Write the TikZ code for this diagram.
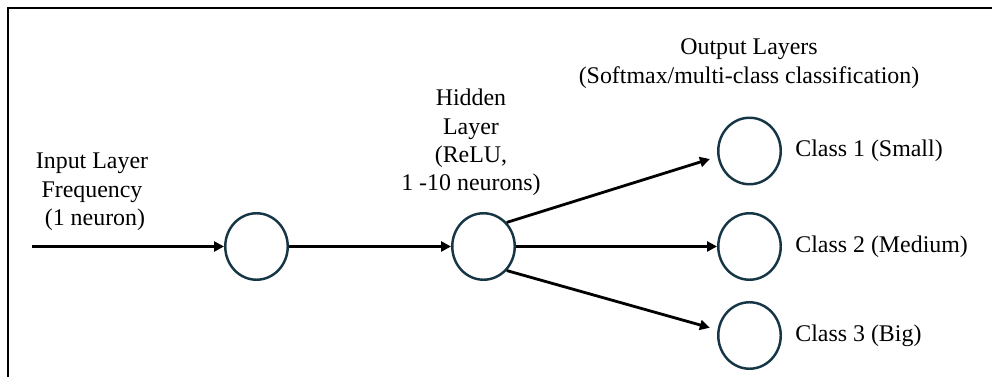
\documentclass[tikz,border=0pt]{standalone}
\usepackage{fontspec}
\setmainfont{Liberation Serif}
\usetikzlibrary{arrows.meta,positioning,shapes}
\definecolor{ring}{RGB}{22,54,70}

\begin{document}
\begin{tikzpicture}[inner sep=0pt]
  \useasboundingbox(0,0)rectangle(19.84,7.54);
  \draw[line width=1.5pt](0.16,0)|-(19.84,7.38);
  \tikzstyle{v}=[ellipse,line width=1.4pt,draw=ring,minimum width=12.5mm,minimum height=13.3mm]\fontsize{13.6pt}{16.2pt}\selectfont
  \node[v](in1)at(5.13,2.61){};
  \node[v](h1)at(9.67,2.61){};
  \node[v](o1)at(14.99,4.52){};
  \node[v](o2)at(14.99,2.61){};
  \node[v](o3)at(14.99,0.83){};
  \coordinate(src)at(0.64,2.61);
  \node[align=center](tin)at(1.84,3.70){Input Layer\\Frequency\\ \ (1 neuron)};
  \node[align=center](th1)at(9.42,4.69){Hidden\\Layer\\(ReLU,\\1 -10 neurons)};
  \node[align=center](tout)at(14.98,6.27){Output Layers\\(Softmax/multi-class classification)};
  \foreach\o/\t in{o1/Class 1 (Small),o2/Class 2 (Medium),o3/Class 3 (Big)}{\node[right=2.6mm of \o](l\o){\t};}
  \tikzstyle{e}=[-{Triangle[length=2mm,width=2mm]},draw=black,line width=1.6pt]
  \draw[e](src)--(in1.west);
  \draw[e](in1.east)--(h1.west);
  \draw[e](h1.east)--(o2.west);
  \foreach\o/\d in{h1.46/o1.190,h1.-46/o3.170}{\draw[e,shorten >=4.5pt](\o)--(\d);}
\end{tikzpicture}
\end{document}
